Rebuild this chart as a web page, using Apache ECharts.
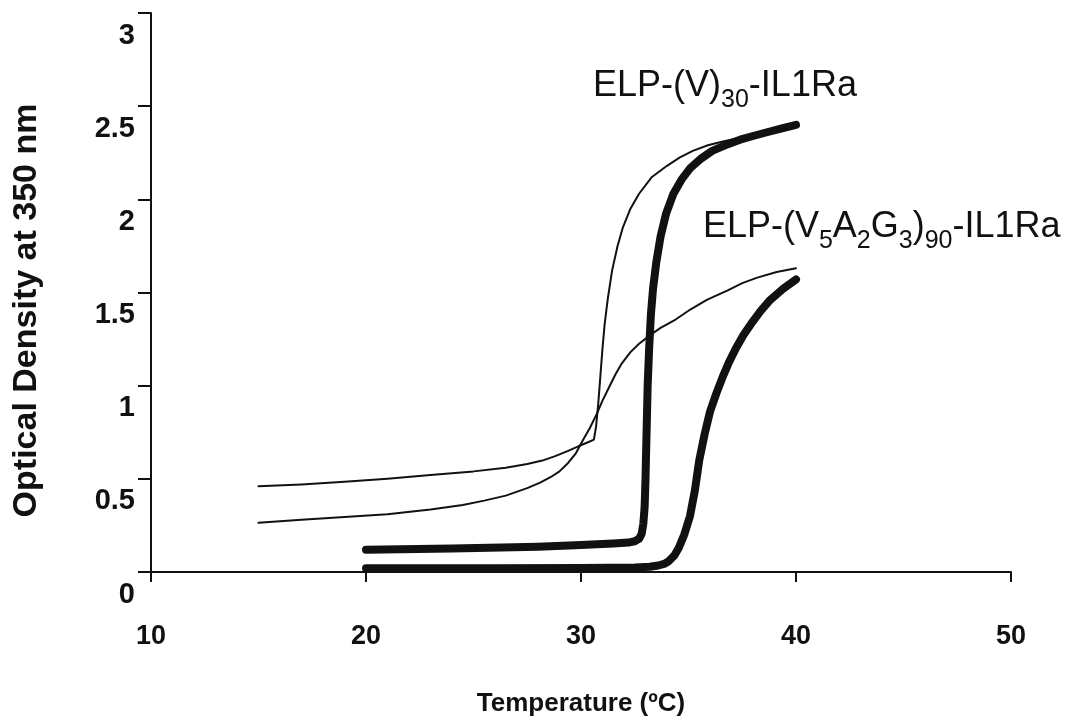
<!DOCTYPE html>
<html>
<head>
<meta charset="utf-8">
<script src="https://cdn.jsdelivr.net/npm/echarts@6/dist/echarts.min.js"></script>
<style>
html,body{margin:0;padding:0;background:#fff}
#chart{width:1073px;height:725px}
</style>
</head>
<body>
<div id="chart"></div>
<script>
// axis ticks
var xTicks = [10, 20, 30, 40, 50];
var yTicks = [0, 0.5, 1, 1.5, 2, 2.5, 3];

// thick curve, ELP-(V)30-IL1Ra
var v30Temp = [20, 24, 28, 30, 31.5, 32.2, 32.5, 32.7, 32.82, 32.9, 32.96, 33.0, 33.05, 33.1, 33.17, 33.25, 33.35, 33.5, 33.7, 33.95, 34.3, 34.7, 35.1, 35.6, 36.1, 36.7, 37.4, 38.0, 38.65, 39.3, 40];
var v30OD   = [0.12, 0.126, 0.136, 0.145, 0.153, 0.158, 0.165, 0.178, 0.205, 0.26, 0.35, 0.5, 0.75, 1.0, 1.2, 1.38, 1.52, 1.66, 1.8, 1.92, 2.03, 2.11, 2.17, 2.22, 2.26, 2.29, 2.32, 2.34, 2.36, 2.38, 2.40];

// thick curve, ELP-(V5A2G3)90-IL1Ra
var vagTemp = [20, 26, 30, 32.5, 33.2, 33.6, 33.9, 34.1, 34.35, 34.55, 34.8, 35.07, 35.3, 35.5, 35.75, 36.0, 36.3, 36.6, 36.9, 37.2, 37.55, 37.9, 38.35, 38.8, 39.4, 40];
var vagOD   = [0.02, 0.02, 0.022, 0.024, 0.028, 0.035, 0.045, 0.06, 0.09, 0.13, 0.2, 0.3, 0.44, 0.6, 0.74, 0.86, 0.96, 1.05, 1.13, 1.2, 1.27, 1.33, 1.40, 1.46, 1.52, 1.57];

// thin curve with sharp jump
var thinATemp = [15, 17, 19, 21, 23, 25, 26.5, 27.5, 28.2, 28.8, 29.4, 29.9, 30.3, 30.6, 30.7, 30.8, 30.9, 31.0, 31.1, 31.25, 31.45, 31.7, 31.95, 32.3, 32.7, 33.3, 34.0, 34.6, 35.2, 35.9, 36.6, 37.4, 38.2, 39.1, 40];
var thinAOD   = [0.46, 0.47, 0.485, 0.5, 0.52, 0.54, 0.56, 0.58, 0.598, 0.622, 0.65, 0.676, 0.695, 0.71, 0.78, 0.9, 1.05, 1.2, 1.33, 1.47, 1.62, 1.75, 1.85, 1.95, 2.03, 2.12, 2.18, 2.225, 2.26, 2.29, 2.31, 2.33, 2.35, 2.37, 2.39];

// thin sigmoid curve
var thinBTemp = [15, 17, 19, 21, 23, 24.5, 25.5, 26.5, 27.5, 28.1, 28.6, 29.0, 29.4, 29.75, 30.1, 30.4, 30.74, 31.0, 31.3, 31.6, 31.9, 32.3, 32.7, 33.2, 33.7, 34.4, 35.1, 35.85, 36.8, 37.5, 38.2, 39.1, 40];
var thinBOD   = [0.264, 0.28, 0.295, 0.31, 0.335, 0.36, 0.383, 0.41, 0.45, 0.48, 0.51, 0.54, 0.585, 0.635, 0.71, 0.77, 0.85, 0.92, 0.99, 1.06, 1.12, 1.18, 1.225, 1.27, 1.31, 1.355, 1.41, 1.46, 1.51, 1.55, 1.58, 1.61, 1.63];

function pairs(xs, ys) {
  return xs.map(function (x, i) { return [x, ys[i]]; });
}

var rich = {
  m: {fontSize: 36, fontFamily: 'Liberation Sans', color: '#111', verticalAlign: 'top', lineHeight: 36},
  s: {fontSize: 25, fontFamily: 'Liberation Sans', color: '#111', verticalAlign: 'top', padding: [20, 0, 0, 0]}
};

function note(coord, text) {
  return {
    symbol: 'circle',
    symbolSize: 0,
    silent: true,
    data: [{coord: coord}],
    label: {show: true, position: 'right', distance: 0, formatter: text, rich: rich}
  };
}

function curve(name, xs, ys, width) {
  return {
    name: name, type: 'line', data: pairs(xs, ys),
    showSymbol: false, smooth: false,
    lineStyle: {color: '#111', width: width, cap: 'round', join: 'round'}
  };
}

var thickV30 = curve('ELP-(V)30-IL1Ra', v30Temp, v30OD, 8);
thickV30.markPoint = note([30.56, 2.584], '{m|ELP-(V)}{s|30}{m|-IL1Ra}');
var thickVag = curve('ELP-(V5A2G3)90-IL1Ra', vagTemp, vagOD, 8);
thickVag.markPoint = note([35.67, 1.828], '{m|ELP-(V}{s|5}{m|A}{s|2}{m|G}{s|3}{m|)}{s|90}{m|-IL1Ra}');

var chart = echarts.init(document.getElementById('chart'));
chart.setOption({
  backgroundColor: '#fff',
  animation: false,
  grid: {left: 151, right: 62, top: 13, bottom: 153},
  xAxis: {
    type: 'value',
    min: xTicks[0], max: xTicks[xTicks.length - 1], interval: 10,
    name: 'Temperature (ºC)',
    nameLocation: 'middle',
    nameGap: 119,
    nameTextStyle: {fontFamily: 'Liberation Sans', fontWeight: 'bold', fontSize: 26, color: '#111'},
    axisLine: {lineStyle: {color: '#111', width: 2}},
    axisTick: {length: 10, lineStyle: {color: '#111', width: 2}},
    axisLabel: {margin: 51, fontFamily: 'Liberation Sans', fontWeight: 'bold', fontSize: 27, color: '#111'},
    splitLine: {show: false}
  },
  yAxis: {
    type: 'value',
    min: yTicks[0], max: yTicks[yTicks.length - 1], interval: 0.5,
    name: 'Optical Density at 350 nm',
    nameLocation: 'middle',
    nameGap: 107,
    nameTextStyle: {fontFamily: 'Liberation Sans', fontWeight: 'bold', fontSize: 34, color: '#111', padding: [0, 36, 0, 0]},
    axisLine: {lineStyle: {color: '#111', width: 2}},
    axisTick: {length: 13, lineStyle: {color: '#111', width: 2}},
    axisLabel: {margin: 16, verticalAlign: 'top', padding: [8, 0, 0, 0], fontFamily: 'Liberation Sans', fontWeight: 'bold', fontSize: 29, color: '#111'},
    splitLine: {show: false}
  },
  series: [
    curve('thin A', thinATemp, thinAOD, 2),
    curve('thin B', thinBTemp, thinBOD, 2),
    thickV30,
    thickVag
  ]
});
</script>
</body>
</html>
